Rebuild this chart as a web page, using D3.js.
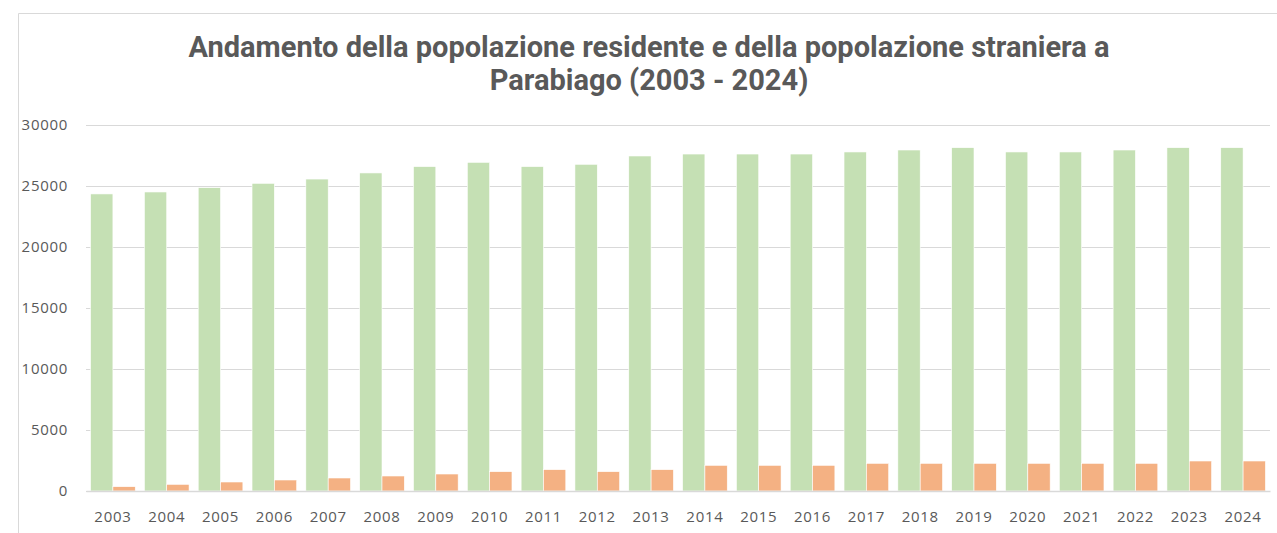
<!DOCTYPE html>
<meta charset="utf-8">
<style>
  body { margin: 0; background: #fff; }
  .title { font-family: Roboto, sans-serif; font-weight: 700; font-size: 29px; fill: #595959; }
  .tick text { font-family: "Open Sans", sans-serif; font-size: 15px; fill: #595959; letter-spacing: 0.7px; }
</style>
<body>
<div id="chart"></div>
<script src="https://d3js.org/d3.v7.min.js"></script>
<script>
  var years = ["2003", "2004", "2005", "2006", "2007", "2008", "2009", "2010", "2011", "2012", "2013",
               "2014", "2015", "2016", "2017", "2018", "2019", "2020", "2021", "2022", "2023", "2024"];
  var residenti = [24350, 24510, 24860, 25220, 25570, 26070, 26590, 26940, 26590, 26780, 27460,
                   27620, 27620, 27620, 27790, 27950, 28140, 27790, 27790, 27950, 28140, 28140];
  var stranieri = [355, 546, 738, 902, 1066, 1230, 1393, 1585, 1749, 1585, 1749,
                   2104, 2104, 2104, 2268, 2268, 2268, 2268, 2268, 2268, 2459, 2459];
  var yTicks = [0, 5000, 10000, 15000, 20000, 25000, 30000];
  var titleLines = ["Andamento della popolazione residente e della popolazione straniera a",
                    "Parabiago (2003 - 2024)"];

  var width = 1277, height = 533;
  var plotLeft = 86, plotRight = 1270, plotTop = 125, plotBottom = 491;

  var svg = d3.select("#chart").append("svg")
          .attr("width", width)
          .attr("height", height);

  // chart frame
  svg.append("path")
          .attr("d", "M18.5," + height + "V13.5H" + width)
          .attr("fill", "none")
          .attr("stroke", "#d9d9d9");

  svg.selectAll("text.title").data(titleLines).enter()
          .append("text")
          .attr("class", "title")
          .attr("x", 649)
          .attr("y", function (d, i) { return 57 + i * 33; })
          .attr("text-anchor", "middle")
          .text(function (d) { return d; });

  var x = d3.scaleBand().domain(years).range([plotLeft, plotRight]).paddingInner(0.17).paddingOuter(0.085);
  var x1 = d3.scaleBand().domain([0, 1]).range([0, x.bandwidth()]);
  var y = d3.scaleLinear().domain([0, 30000]).range([plotBottom, plotTop]);

  var yAxis = svg.append("g")
          .attr("transform", "translate(" + plotLeft + ",0)")
          .call(d3.axisLeft(y).tickValues(yTicks).tickSize(-(plotRight - plotLeft)).tickPadding(18).tickFormat(d3.format("d")));
  yAxis.select(".domain").remove();
  yAxis.selectAll(".tick line").attr("stroke", "#d9d9d9");

  var groups = svg.selectAll("g.year").data(years).enter()
          .append("g")
          .attr("class", "year")
          .attr("transform", function (d) { return "translate(" + x(d) + ",0)"; });

  groups.append("rect")
          .attr("x", x1(0))
          .attr("width", x1.bandwidth())
          .attr("y", function (d, i) { return y(residenti[i]); })
          .attr("height", function (d, i) { return plotBottom - y(residenti[i]); })
          .attr("fill", "#c5e0b4")
          .attr("stroke", "#fff")
          .attr("stroke-width", 0.6);

  groups.append("rect")
          .attr("x", x1(1))
          .attr("width", x1.bandwidth())
          .attr("y", function (d, i) { return y(stranieri[i]); })
          .attr("height", function (d, i) { return plotBottom - y(stranieri[i]); })
          .attr("fill", "#f4b183")
          .attr("stroke", "#fff")
          .attr("stroke-width", 0.6);

  var xAxis = svg.append("g")
          .attr("transform", "translate(0," + plotBottom + ")")
          .call(d3.axisBottom(x).tickSize(0).tickPadding(20));
  xAxis.select(".domain").attr("stroke", "#d9d9d9").attr("stroke-width", 1.5);
</script>
</body>
